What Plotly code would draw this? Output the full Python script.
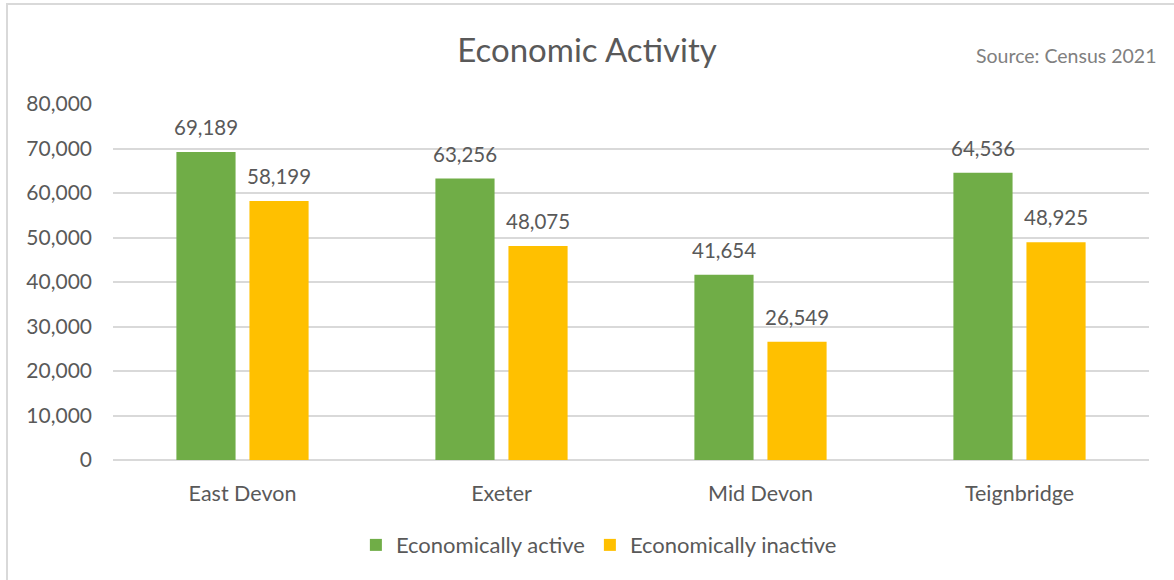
import plotly.graph_objects as go

# Census 2021 economic activity by district
districts = ["East Devon", "Exeter", "Mid Devon", "Teignbridge"]
active = [69189, 63256, 41654, 64536]
inactive = [58199, 48075, 26549, 48925]
y_ticks = [0, 10000, 20000, 30000, 40000, 50000, 60000, 70000, 80000]

GREEN = "#70AD47"
GOLD = "#FFC000"
TEXT = "#595959"
GRID = "#D9D9D9"
FONT = "Lato"

fig = go.Figure()
fig.add_trace(go.Bar(name="Economically active", x=districts, y=active,
                     marker=dict(color=GREEN, line=dict(width=0))))
fig.add_trace(go.Bar(name="Economically inactive", x=districts, y=inactive,
                     marker=dict(color=GOLD, line=dict(width=0))))

# value labels sitting above each bar
for off, vals in ((-0.5, active), (0.5, inactive)):
    for i, v in enumerate(vals):
        fig.add_annotation(x=i + off * 0.282, y=v, xref="x", yref="y",
                           text=f"{v:,}", showarrow=False, yanchor="middle",
                           yshift=25, font=dict(family=FONT, size=20.5, color=TEXT))

# chart frame
fig.add_shape(type="rect", xref="paper", yref="paper",
              x0=-0.1023, x1=1.1, y0=-0.4, y1=1.281,
              line=dict(color=GRID, width=2), layer="below")

fig.add_annotation(xref="paper", yref="paper", x=1.009, y=1.135,
                   xanchor="right", yanchor="middle", showarrow=False,
                   text="Source: Census 2021",
                   font=dict(family=FONT, size=19.5, color="#808080"))

fig.update_layout(
    width=1174, height=580,
    margin=dict(l=113, r=25, t=104, b=120),
    paper_bgcolor="white", plot_bgcolor="white",
    title=dict(text="Economic Activity", x=0.5, xanchor="center",
               y=0.913, yanchor="middle",
               font=dict(family=FONT, size=33, color=TEXT)),
    barmode="group", bargap=0.436, bargroupgap=0.19,
    font=dict(family=FONT, size=20, color=TEXT),
    legend=dict(orientation="h", x=0.469, xanchor="center", y=-0.239,
                yanchor="middle", font=dict(family=FONT, size=22, color=TEXT),
                itemwidth=30, traceorder="normal"),
    xaxis=dict(showgrid=False, showline=False, zeroline=False,
               ticks="", ticklabelstandoff=18,
               tickfont=dict(family=FONT, size=21.5, color=TEXT)),
    yaxis=dict(range=[0, 80000], tickvals=y_ticks, tickformat=",",
               showgrid=True, gridcolor=GRID, gridwidth=1.5,
               zeroline=True, zerolinecolor=GRID, zerolinewidth=1.5,
               showline=False, ticks="", ticklabelstandoff=20,
               tickfont=dict(family=FONT, size=21, color=TEXT)),
)

fig.write_html("out.html")
